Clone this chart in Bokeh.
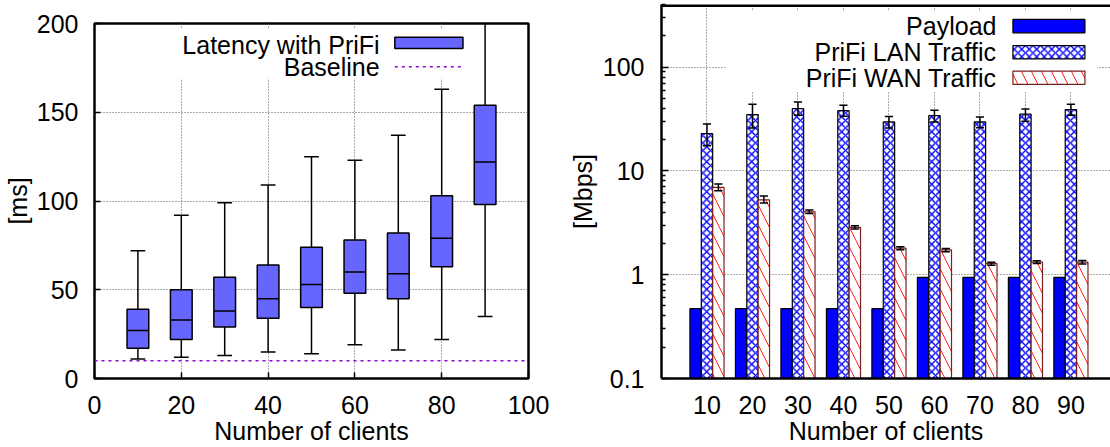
from bokeh.plotting import figure
from bokeh.layouts import row
from bokeh.models import FixedTicker, Span, CustomJSTickFormatter
from bokeh.core.properties import value
from bokeh.embed import file_html
from bokeh.resources import INLINE

# ---------------- data: latency box plot ----------------
clients = [10, 20, 30, 40, 50, 60, 70, 80, 90]
lat_min = [11, 12, 13, 15, 14, 19, 16, 22, 35]
lat_q1 = [17, 22, 29, 34, 40, 48, 45, 63, 98]
lat_med = [27, 33, 38, 45, 53, 60, 59, 79, 122]
lat_q3 = [39, 50, 57, 64, 74, 78, 82, 103, 154]
lat_max = [72, 92, 99, 109, 125, 123, 137, 163, 205]
baseline_ms = 10
left_xticks = [0, 20, 40, 60, 80, 100]
left_yticks = [0, 50, 100, 150, 200]

# ---------------- data: bandwidth bars ----------------
bw_labels = ["10", "20", "30", "40", "50", "60", "70", "80", "90"]
payload = [0.47, 0.47, 0.47, 0.47, 0.47, 0.94, 0.94, 0.94, 0.94]
lan = [22.9, 34.8, 39.7, 38.0, 29.6, 34.0, 29.6, 35.1, 38.9]
lan_lo = [17.4, 25.9, 34.3, 33.6, 25.9, 29.6, 26.0, 30.1, 34.3]
lan_hi = [28.3, 43.7, 46.0, 42.8, 33.3, 38.3, 33.0, 39.4, 43.7]
wan = [6.92, 5.26, 4.03, 2.85, 1.80, 1.73, 1.28, 1.32, 1.32]
wan_lo = [6.42, 4.89, 3.89, 2.75, 1.74, 1.66, 1.23, 1.28, 1.27]
wan_hi = [7.45, 5.71, 4.19, 2.96, 1.86, 1.79, 1.32, 1.36, 1.37]
right_yticks = [0.1, 1, 10, 100]
right_minor = [m * d for d in (0.1, 1, 10) for m in range(2, 10)] + [200, 300, 400]
Y2_MIN, Y2_MAX = 0.1, 400

FONT = "Liberation Sans"
FS = "25px"
BOX_COLOR = "#6666ff"
BASE_COLOR = "#9400d3"
GRID_COLOR = "#555555"
WAN_HATCH = dict(fill_color="white", hatch_pattern="left_diagonal_line", hatch_color="#ff2020",
                 hatch_scale=20, hatch_weight=1, line_color="#7a1f1f", line_width=1.2)
LAN_HATCH = dict(fill_color="white", hatch_pattern="diagonal_cross", hatch_color="#0000ff",
                 hatch_scale=7.5, hatch_weight=1.4, line_color="black", line_width=1.2)


def style_axis(ax, tick_in=6):
    ax.major_label_text_font = FONT
    ax.major_label_text_font_size = FS
    ax.major_label_text_color = "black"
    ax.axis_label_text_font = FONT
    ax.axis_label_text_font_size = FS
    ax.axis_label_text_font_style = "normal"
    ax.axis_label_text_color = "black"
    ax.major_tick_in = tick_in
    ax.major_tick_out = 0
    ax.minor_tick_in = 0
    ax.minor_tick_out = 0
    ax.major_tick_line_color = "black"
    ax.major_tick_line_width = 1.5


# ================= left: latency =================
p1 = figure(width=560, height=447, x_range=(0, 100), y_range=(0, 200),
            output_backend="svg", toolbar_location=None,
            min_border_left=91, min_border_right=32, min_border_top=23, min_border_bottom=66)
p1.frame_align = False
p1.outline_line_color = "black"
p1.outline_line_width = 2.5
p1.background_fill_color = "white"
p1.border_fill_color = "white"
for ax in (p1.xaxis[0], p1.yaxis[0]):
    style_axis(ax)
    ax.axis_line_color = None
p1.xaxis.ticker = FixedTicker(ticks=left_xticks)
p1.yaxis.ticker = FixedTicker(ticks=left_yticks)
p1.xaxis.major_label_standoff = 17
p1.yaxis.major_label_standoff = 16
p1.xaxis.axis_label = "Number of clients"
p1.yaxis.axis_label = "[ms]"
p1.xaxis.axis_label_standoff = 0
p1.yaxis.axis_label_standoff = 2
p1.grid.grid_line_color = GRID_COLOR
p1.grid.grid_line_dash = "1 2"
p1.grid.grid_line_width = 1

# whiskers
p1.segment(x0=clients, x1=clients, y0=lat_min, y1=lat_q1, line_color="black", line_width=1.5)
p1.segment(x0=clients, x1=clients, y0=lat_q3, y1=lat_max, line_color="black", line_width=1.5)
cap = 1.7
p1.segment(x0=[c - cap for c in clients], x1=[c + cap for c in clients], y0=lat_min, y1=lat_min,
           line_color="black", line_width=1.5)
p1.segment(x0=[c - cap for c in clients], x1=[c + cap for c in clients], y0=lat_max, y1=lat_max,
           line_color="black", line_width=1.5)
bw = 2.5
p1.quad(left=[c - bw for c in clients], right=[c + bw for c in clients], bottom=lat_q1, top=lat_q3,
        fill_color=BOX_COLOR, line_color="black", line_width=1.5)
p1.segment(x0=[c - bw for c in clients], x1=[c + bw for c in clients], y0=lat_med, y1=lat_med,
           line_color="black", line_width=1.5)
p1.add_layout(Span(location=baseline_ms, dimension="width", line_color=BASE_COLOR,
                   line_dash="3 4", line_width=1.5))

# legend (gnuplot style: label left, sample right)
p1.quad(left=[18], right=[86.7], bottom=[169], top=[197.2], fill_color="white", line_color=None)
p1.text(x=[65.7, 65.7], y=[188.1, 175.6], text=["Latency with PriFi", "Baseline"],
        text_align="right", text_baseline="middle", text_font=value(FONT),
        text_font_size=FS, text_color="black")
p1.quad(left=[69.2], right=[84.9], bottom=[185.9], top=[192.3], fill_color=BOX_COLOR,
        line_color="black", line_width=1.5)
p1.segment(x0=[69.2], x1=[84.9], y0=[175.6], y1=[175.6], line_color=BASE_COLOR,
           line_dash="3 4", line_width=1.5)

# ================= right: bandwidth =================
idx = list(range(len(bw_labels)))
X2_MIN, X2_MAX = -1, 8.87
p2 = figure(width=550, height=447, x_range=(X2_MIN, X2_MAX), y_range=(Y2_MIN, Y2_MAX), y_axis_type="log",
            output_backend="svg", toolbar_location=None,
            min_border_left=101, min_border_right=0, min_border_top=4, min_border_bottom=68)
p2.frame_align = False
p2.outline_line_color = None
p2.background_fill_color = "white"
p2.border_fill_color = "white"
style_axis(p2.xaxis[0], tick_in=0)
style_axis(p2.yaxis[0], tick_in=7)
p2.yaxis.minor_tick_in = 4
p2.yaxis.minor_tick_line_color = "black"
p2.yaxis.minor_tick_line_width = 1.5
for ax in (p2.xaxis[0], p2.yaxis[0]):
    ax.axis_line_color = "black"
    ax.axis_line_width = 2.5
p2.xaxis.ticker = FixedTicker(ticks=idx)
p2.xaxis.formatter = CustomJSTickFormatter(args=dict(labels=bw_labels),
                                           code="const i = Math.round(tick); return (i >= 0 && i < labels.length) ? labels[i] : '';")
p2.yaxis.ticker = FixedTicker(ticks=right_yticks, minor_ticks=right_minor)
p2.yaxis.formatter = CustomJSTickFormatter(code="return tick < 1 ? tick.toFixed(1) : tick.toFixed(0);")
p2.xaxis.major_label_standoff = 17
p2.yaxis.major_label_standoff = 17
p2.xaxis.axis_label = "Number of clients"
p2.yaxis.axis_label = "[Mbps]"
p2.xaxis.axis_label_standoff = 0
p2.yaxis.axis_label_standoff = 3
p2.grid.grid_line_color = GRID_COLOR
p2.grid.grid_line_dash = "1 2"
p2.grid.grid_line_width = 1

w = 0.25
p2.quad(left=[i - 1.5 * w for i in idx], right=[i - 0.5 * w for i in idx], bottom=Y2_MIN, top=payload,
        fill_color="#0000ff", line_color="black", line_width=1.2)
p2.quad(left=[i - 0.5 * w for i in idx], right=[i + 0.5 * w for i in idx], bottom=Y2_MIN, top=lan,
        **LAN_HATCH)
p2.quad(left=[i + 0.5 * w for i in idx], right=[i + 1.5 * w for i in idx], bottom=Y2_MIN, top=wan,
        **WAN_HATCH)

ecap = 0.09
lan_x = idx
wan_x = [i + w for i in idx]
for xs, lo, hi in ((lan_x, lan_lo, lan_hi), (wan_x, wan_lo, wan_hi)):
    p2.segment(x0=xs, x1=xs, y0=lo, y1=hi, line_color="black", line_width=1.5)
    p2.segment(x0=[x - ecap for x in xs], x1=[x + ecap for x in xs], y0=lo, y1=lo,
               line_color="black", line_width=1.5)
    p2.segment(x0=[x - ecap for x in xs], x1=[x + ecap for x in xs], y0=hi, y1=hi,
               line_color="black", line_width=1.5)

# top border of the frame (right edge lies outside the picture)
p2.segment(x0=[X2_MIN], x1=[X2_MAX], y0=[Y2_MAX], y1=[Y2_MAX], line_color="black", line_width=5)

# legend
p2.quad(left=[0.407], right=[8.58], bottom=[57.5], top=[345], fill_color="white", line_color=None)
p2.text(x=[6.363, 6.363, 6.363], y=[247.7, 138.7, 78.8],
        text=["Payload", "PriFi LAN Traffic", "PriFi WAN Traffic"],
        text_align="right", text_baseline="middle", text_font=value(FONT),
        text_font_size=FS, text_color="black")
f = 1.16
p2.quad(left=[6.725], right=[8.308], bottom=[247.7 / f], top=[247.7 * f],
        fill_color="#0000ff", line_color="black", line_width=1.2)
p2.quad(left=[6.725], right=[8.308], bottom=[138.7 / f], top=[138.7 * f], **LAN_HATCH)
p2.quad(left=[6.725], right=[8.308], bottom=[78.8 / f], top=[78.8 * f], **WAN_HATCH)

layout = row(p1, p2)
open("out.html", "w").write(file_html(layout, INLINE))
